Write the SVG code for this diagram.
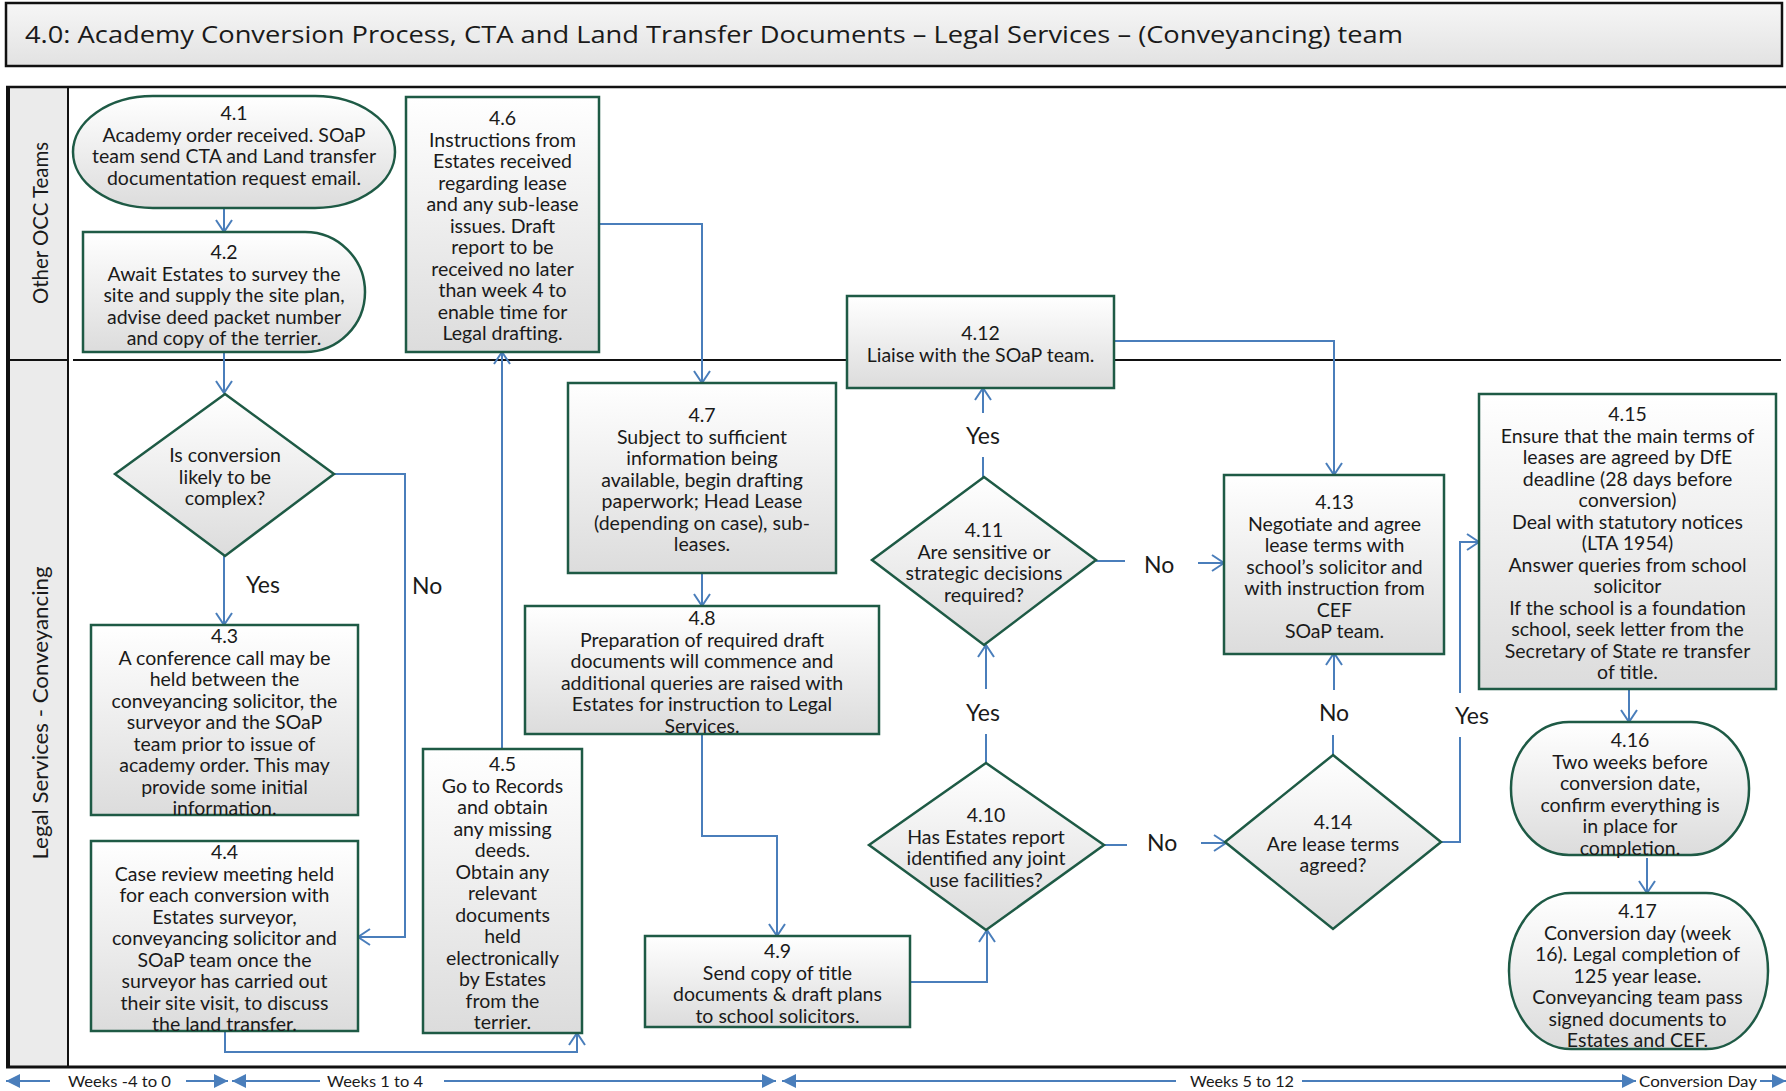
<svg xmlns="http://www.w3.org/2000/svg" width="1786" height="1091" viewBox="0 0 1786 1091">
  <defs>
    <linearGradient id="shade" x1="0" y1="0" x2="0" y2="1">
      <stop offset="0" stop-color="#ffffff"/>
      <stop offset="1" stop-color="#dcdcdc"/>
    </linearGradient>
    <linearGradient id="titleShade" x1="0" y1="0" x2="0" y2="1">
      <stop offset="0" stop-color="#f6f6f6"/>
      <stop offset="1" stop-color="#e2e2e2"/>
    </linearGradient>
    <!-- open V arrowhead for flow connectors -->
    <marker id="arrow" viewBox="0 0 14 18" refX="13" refY="9" markerWidth="14" markerHeight="18" markerUnits="userSpaceOnUse" orient="auto">
      <path d="M1,1 L13,9 L1,17" fill="none" stroke="#4a7ebb" stroke-width="2"/>
    </marker>
    <!-- solid head for the timeline bar -->
    <marker id="tri" viewBox="0 0 14 14" refX="14" refY="7" markerWidth="14" markerHeight="14" markerUnits="userSpaceOnUse" orient="auto">
      <path d="M0,0 L14,7 L0,14 Z" fill="#4a7ebb"/>
    </marker>
  </defs>
  <style>
    .node { fill: url(#shade); stroke: #1e5a45; stroke-width: 2.5; }
    .t { font-family: Lato, "Liberation Sans", sans-serif; font-size: 19.5px; fill: #1a1a1a; text-anchor: middle; transform: translate(0px, 2px); }
    .lbl { font-family: Lato, "Liberation Sans", sans-serif; font-size: 23px; fill: #1a1a1a; }
    .mid { text-anchor: middle; }
    .conn { fill: none; stroke: #4a7ebb; stroke-width: 2; }
    .frame { stroke: #111111; fill: none; }
    .lane { font-family: Lato, "Liberation Sans", sans-serif; font-size: 21px; fill: #1a1a1a; text-anchor: middle; }
    .week { font-family: Lato, "Liberation Sans", sans-serif; font-size: 15.5px; fill: #1a1a1a; }
  </style>

  <rect width="1786" height="1091" fill="#ffffff"/>

  <!-- title bar -->
  <g id="title">
    <rect x="6" y="3" width="1776" height="63" fill="url(#titleShade)" stroke="#111111" stroke-width="2.5"/>
    <text x="25" y="43" font-family="'Open Sans', 'Noto Sans', sans-serif" font-size="24" fill="#1a1a1a" textLength="1378" lengthAdjust="spacingAndGlyphs">4.0: Academy Conversion Process, CTA and Land Transfer Documents – Legal Services – (Conveyancing) team</text>
  </g>

  <!-- swimlane frame -->
  <g id="lanes">
    <rect x="8" y="87" width="60" height="980" fill="#ebebeb"/>
    <line class="frame" x1="6" y1="87" x2="1786" y2="87" stroke-width="2.5"/>
    <line class="frame" x1="8" y1="86" x2="8" y2="1068" stroke-width="4"/>
    <line class="frame" x1="68" y1="87" x2="68" y2="1067" stroke-width="2"/>
    <line class="frame" x1="8" y1="360" x2="68" y2="360" stroke-width="2"/>
    <line class="frame" x1="73" y1="360" x2="1781" y2="360" stroke-width="2"/>
    <line class="frame" x1="6" y1="1067" x2="1786" y2="1067" stroke-width="3"/>
    <text class="lane" transform="translate(48,223) rotate(-90)" textLength="162" lengthAdjust="spacingAndGlyphs">Other OCC Teams</text>
    <text class="lane" transform="translate(48,713) rotate(-90)" textLength="293" lengthAdjust="spacingAndGlyphs">Legal Services - Conveyancing</text>
  </g>

  <!-- connectors -->
  <g id="connectors">
    <path class="conn" d="M224,208 V232" marker-end="url(#arrow)"/>
    <path class="conn" d="M224,352 V393" marker-end="url(#arrow)"/>
    <path class="conn" d="M224,556 V625" marker-end="url(#arrow)"/>
    <path class="conn" d="M334,474 H405 V937 H358" marker-end="url(#arrow)"/>
    <path class="conn" d="M225,1031 V1052 H577 V1033" marker-end="url(#arrow)"/>
    <path class="conn" d="M502,749 V352" marker-end="url(#arrow)"/>
    <path class="conn" d="M599,224 H702 V383" marker-end="url(#arrow)"/>
    <path class="conn" d="M702,573 V606" marker-end="url(#arrow)"/>
    <path class="conn" d="M702,734 V836 H777 V936" marker-end="url(#arrow)"/>
    <path class="conn" d="M911,982 H987 V930" marker-end="url(#arrow)"/>
    <path class="conn" d="M986,764 V734"/>
    <path class="conn" d="M986,689 V645" marker-end="url(#arrow)"/>
    <path class="conn" d="M983,478 V457"/>
    <path class="conn" d="M983,413 V388" marker-end="url(#arrow)"/>
    <path class="conn" d="M1096,561 H1125"/>
    <path class="conn" d="M1198,563 H1224" marker-end="url(#arrow)"/>
    <path class="conn" d="M1114,341 H1334 V475" marker-end="url(#arrow)"/>
    <path class="conn" d="M1103,845 H1127"/>
    <path class="conn" d="M1201,843 H1226" marker-end="url(#arrow)"/>
    <path class="conn" d="M1333,755 V735"/>
    <path class="conn" d="M1334,690 V653" marker-end="url(#arrow)"/>
    <path class="conn" d="M1441,842 H1460 V737"/>
    <path class="conn" d="M1460,693 V542 H1479" marker-end="url(#arrow)"/>
    <path class="conn" d="M1629,689 V722" marker-end="url(#arrow)"/>
    <path class="conn" d="M1647,858 V893" marker-end="url(#arrow)"/>

    <text class="lbl" x="246" y="593">Yes</text>
    <text class="lbl" x="412" y="594">No</text>
    <text class="lbl mid" x="983" y="444">Yes</text>
    <text class="lbl mid" x="983" y="721">Yes</text>
    <text class="lbl" x="1144" y="573">No</text>
    <text class="lbl" x="1147" y="851">No</text>
    <text class="lbl mid" x="1334" y="721">No</text>
    <text class="lbl" x="1455" y="724">Yes</text>
  </g>

  <!-- Other OCC Teams lane -->
  <g id="n4_1">
    <rect class="node" x="73" y="96" width="322" height="112" rx="80" ry="56"/>
    <text class="t" x="234" y="118"><tspan x="234">4.1</tspan><tspan x="234" dy="21.5">Academy order received. SOaP</tspan><tspan x="234" dy="21.5">team send CTA and Land transfer</tspan><tspan x="234" dy="21.5">documentation request email.</tspan></text>
  </g>
  <g id="n4_2">
    <path class="node" d="M83,232 H305 A60,60 0 0 1 305,352 H83 Z"/>
    <text class="t" x="224" y="257"><tspan x="224">4.2</tspan><tspan x="224" dy="21.5">Await Estates to survey the</tspan><tspan x="224" dy="21.5">site and supply the site plan,</tspan><tspan x="224" dy="21.5">advise deed packet number</tspan><tspan x="224" dy="21.5">and copy of the terrier.</tspan></text>
  </g>
  <g id="n4_6">
    <rect class="node" x="406" y="97" width="193" height="255"/>
    <text class="t" x="502.5" y="123"><tspan x="502.5">4.6</tspan><tspan x="502.5" dy="21.5">Instructions from</tspan><tspan x="502.5" dy="21.5">Estates received</tspan><tspan x="502.5" dy="21.5">regarding lease</tspan><tspan x="502.5" dy="21.5">and any sub-lease</tspan><tspan x="502.5" dy="21.5">issues. Draft</tspan><tspan x="502.5" dy="21.5">report to be</tspan><tspan x="502.5" dy="21.5">received no later</tspan><tspan x="502.5" dy="21.5">than week 4 to</tspan><tspan x="502.5" dy="21.5">enable time for</tspan><tspan x="502.5" dy="21.5">Legal drafting.</tspan></text>
  </g>
  <g id="n4_12">
    <rect class="node" x="847" y="296" width="267" height="92"/>
    <text class="t" x="980.5" y="338"><tspan x="980.5">4.12</tspan><tspan x="980.5" dy="21.5">Liaise with the SOaP team.</tspan></text>
  </g>

  <!-- Legal Services - Conveyancing lane -->
  <g id="d_complex">
    <path class="node" d="M225,394 L334,474 L225,556 L115,474 Z"/>
    <text class="t" x="225" y="460"><tspan x="225">Is conversion</tspan><tspan x="225" dy="21.5">likely to be</tspan><tspan x="225" dy="21.5">complex?</tspan></text>
  </g>
  <g id="n4_3">
    <rect class="node" x="91" y="625" width="267" height="190"/>
    <text class="t" x="224.5" y="641"><tspan x="224.5">4.3</tspan><tspan x="224.5" dy="21.5">A conference call may be</tspan><tspan x="224.5" dy="21.5">held between the</tspan><tspan x="224.5" dy="21.5">conveyancing solicitor, the</tspan><tspan x="224.5" dy="21.5">surveyor and the SOaP</tspan><tspan x="224.5" dy="21.5">team prior to issue of</tspan><tspan x="224.5" dy="21.5">academy order. This may</tspan><tspan x="224.5" dy="21.5">provide some initial</tspan><tspan x="224.5" dy="21.5">information.</tspan></text>
  </g>
  <g id="n4_4">
    <rect class="node" x="91" y="841" width="267" height="190"/>
    <text class="t" x="224.5" y="857"><tspan x="224.5">4.4</tspan><tspan x="224.5" dy="21.5">Case review meeting held</tspan><tspan x="224.5" dy="21.5">for each conversion with</tspan><tspan x="224.5" dy="21.5">Estates surveyor,</tspan><tspan x="224.5" dy="21.5">conveyancing solicitor and</tspan><tspan x="224.5" dy="21.5">SOaP team once the</tspan><tspan x="224.5" dy="21.5">surveyor has carried out</tspan><tspan x="224.5" dy="21.5">their site visit, to discuss</tspan><tspan x="224.5" dy="21.5">the land transfer.</tspan></text>
  </g>
  <g id="n4_5">
    <rect class="node" x="423" y="749" width="159" height="284"/>
    <text class="t" x="502.5" y="769"><tspan x="502.5">4.5</tspan><tspan x="502.5" dy="21.5">Go to Records</tspan><tspan x="502.5" dy="21.5">and obtain</tspan><tspan x="502.5" dy="21.5">any missing</tspan><tspan x="502.5" dy="21.5">deeds.</tspan><tspan x="502.5" dy="21.5">Obtain any</tspan><tspan x="502.5" dy="21.5">relevant</tspan><tspan x="502.5" dy="21.5">documents</tspan><tspan x="502.5" dy="21.5">held</tspan><tspan x="502.5" dy="21.5">electronically</tspan><tspan x="502.5" dy="21.5">by Estates</tspan><tspan x="502.5" dy="21.5">from the</tspan><tspan x="502.5" dy="21.5">terrier.</tspan></text>
  </g>
  <g id="n4_7">
    <rect class="node" x="568" y="383" width="268" height="190"/>
    <text class="t" x="702" y="420"><tspan x="702">4.7</tspan><tspan x="702" dy="21.5">Subject to sufficient</tspan><tspan x="702" dy="21.5">information being</tspan><tspan x="702" dy="21.5">available, begin drafting</tspan><tspan x="702" dy="21.5">paperwork; Head Lease</tspan><tspan x="702" dy="21.5">(depending on case), sub-</tspan><tspan x="702" dy="21.5">leases.</tspan></text>
  </g>
  <g id="n4_8">
    <rect class="node" x="525" y="606" width="354" height="128"/>
    <text class="t" x="702" y="623"><tspan x="702">4.8</tspan><tspan x="702" dy="21.5">Preparation of required draft</tspan><tspan x="702" dy="21.5">documents will commence and</tspan><tspan x="702" dy="21.5">additional queries are raised with</tspan><tspan x="702" dy="21.5">Estates for instruction to Legal</tspan><tspan x="702" dy="21.5">Services.</tspan></text>
  </g>
  <g id="n4_9">
    <rect class="node" x="645" y="936" width="265" height="91"/>
    <text class="t" x="777.5" y="956"><tspan x="777.5">4.9</tspan><tspan x="777.5" dy="21.5">Send copy of title</tspan><tspan x="777.5" dy="21.5">documents &amp; draft plans</tspan><tspan x="777.5" dy="21.5">to school solicitors.</tspan></text>
  </g>
  <g id="d4_10">
    <path class="node" d="M986,763 L1104,845 L986,930 L869,845 Z"/>
    <text class="t" x="986" y="820"><tspan x="986">4.10</tspan><tspan x="986" dy="21.5">Has Estates report</tspan><tspan x="986" dy="21.5">identified any joint</tspan><tspan x="986" dy="21.5">use facilities?</tspan></text>
  </g>
  <g id="d4_11">
    <path class="node" d="M984,477 L1096,560 L984,645 L872,560 Z"/>
    <text class="t" x="984" y="535"><tspan x="984">4.11</tspan><tspan x="984" dy="21.5">Are sensitive or</tspan><tspan x="984" dy="21.5">strategic decisions</tspan><tspan x="984" dy="21.5">required?</tspan></text>
  </g>
  <g id="n4_13">
    <rect class="node" x="1224" y="475" width="220" height="179"/>
    <text class="t" x="1334.5" y="507"><tspan x="1334.5">4.13</tspan><tspan x="1334.5" dy="21.5">Negotiate and agree</tspan><tspan x="1334.5" dy="21.5">lease terms with</tspan><tspan x="1334.5" dy="21.5">school’s solicitor and</tspan><tspan x="1334.5" dy="21.5">with instruction from</tspan><tspan x="1334.5" dy="21.5">CEF</tspan><tspan x="1334.5" dy="21.5">SOaP team.</tspan></text>
  </g>
  <g id="d4_14">
    <path class="node" d="M1333,755 L1441,842 L1333,929 L1225,842 Z"/>
    <text class="t" x="1333" y="827"><tspan x="1333">4.14</tspan><tspan x="1333" dy="21.5">Are lease terms</tspan><tspan x="1333" dy="21.5">agreed?</tspan></text>
  </g>
  <g id="n4_15">
    <rect class="node" x="1479" y="394" width="297" height="295"/>
    <text class="t" x="1627.5" y="419"><tspan x="1627.5">4.15</tspan><tspan x="1627.5" dy="21.5">Ensure that the main terms of</tspan><tspan x="1627.5" dy="21.5">leases are agreed by DfE</tspan><tspan x="1627.5" dy="21.5">deadline (28 days before</tspan><tspan x="1627.5" dy="21.5">conversion)</tspan><tspan x="1627.5" dy="21.5">Deal with statutory notices</tspan><tspan x="1627.5" dy="21.5">(LTA 1954)</tspan><tspan x="1627.5" dy="21.5">Answer queries from school</tspan><tspan x="1627.5" dy="21.5">solicitor</tspan><tspan x="1627.5" dy="21.5">If the school is a foundation</tspan><tspan x="1627.5" dy="21.5">school, seek letter from the</tspan><tspan x="1627.5" dy="21.5">Secretary of State re transfer</tspan><tspan x="1627.5" dy="21.5">of title.</tspan></text>
  </g>
  <g id="n4_16">
    <rect class="node" x="1511" y="722" width="238" height="133" rx="58" ry="66"/>
    <text class="t" x="1630" y="745"><tspan x="1630">4.16</tspan><tspan x="1630" dy="21.5">Two weeks before</tspan><tspan x="1630" dy="21.5">conversion date,</tspan><tspan x="1630" dy="21.5">confirm everything is</tspan><tspan x="1630" dy="21.5">in place for</tspan><tspan x="1630" dy="21.5">completion.</tspan></text>
  </g>
  <g id="n4_17">
    <rect class="node" x="1509" y="893" width="259" height="156" rx="62" ry="78"/>
    <text class="t" x="1637.5" y="916"><tspan x="1637.5">4.17</tspan><tspan x="1637.5" dy="21.5">Conversion day (week</tspan><tspan x="1637.5" dy="21.5">16). Legal completion of</tspan><tspan x="1637.5" dy="21.5">125 year lease.</tspan><tspan x="1637.5" dy="21.5">Conveyancing team pass</tspan><tspan x="1637.5" dy="21.5">signed documents to</tspan><tspan x="1637.5" dy="21.5">Estates and CEF.</tspan></text>
  </g>

  <!-- timeline bar -->
  <g id="timeline">
    <line class="conn" x1="50" y1="1081" x2="6" y2="1081" marker-end="url(#tri)"/>
    <text class="week" x="68" y="1087" textLength="103" lengthAdjust="spacingAndGlyphs">Weeks -4 to 0</text>
    <line class="conn" x1="186" y1="1081" x2="228" y2="1081" marker-end="url(#tri)"/>
    <line class="conn" x1="320" y1="1081" x2="232" y2="1081" marker-end="url(#tri)"/>
    <text class="week" x="327" y="1087" textLength="96" lengthAdjust="spacingAndGlyphs">Weeks 1 to 4</text>
    <line class="conn" x1="444" y1="1081" x2="776" y2="1081" marker-end="url(#tri)"/>
    <line class="conn" x1="1176" y1="1081" x2="782" y2="1081" marker-end="url(#tri)"/>
    <text class="week" x="1190" y="1087" textLength="104" lengthAdjust="spacingAndGlyphs">Weeks 5 to 12</text>
    <line class="conn" x1="1302" y1="1081" x2="1636" y2="1081" marker-end="url(#tri)"/>
    <text class="week" x="1639" y="1087" textLength="118" lengthAdjust="spacingAndGlyphs">Conversion Day</text>
    <line class="conn" x1="1760" y1="1081" x2="1786" y2="1081" marker-end="url(#tri)"/>
  </g>
</svg>
